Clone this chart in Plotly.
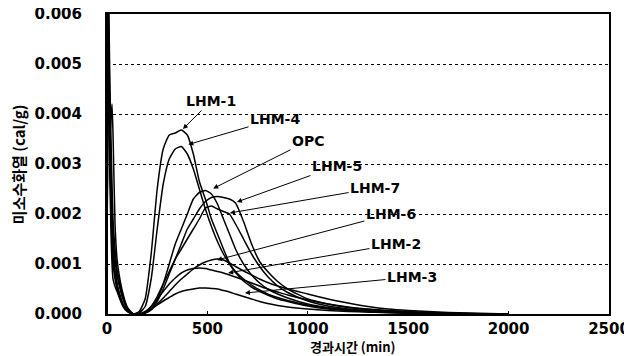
import plotly.graph_objects as go

# time (min)
t = [0, 5, 10, 15, 20, 25, 30, 40, 50, 60,
     80, 100, 130, 160, 190, 220, 250, 280, 310, 340,
     370, 400, 430, 460, 490, 520, 550, 580, 610, 640,
     680, 720, 760, 800, 850, 900, 1000, 1100, 1200, 1300,
     1400, 1500, 1600, 1700, 1800, 1900, 2000]

lhm1 = [0, 0.0068, 0.0052, 0.0038, 0.0028, 0.0021, 0.0016, 0.0011, 0.0008, 0.0006,
        0.0003, 0.00012, 0.0, 0.00005, 0.0003, 0.0012, 0.0025, 0.0033, 0.00358, 0.00362,
        0.00368, 0.00358, 0.0032, 0.00265, 0.0023, 0.0019, 0.0016, 0.0013, 0.00102, 0.00085,
        0.0007, 0.00058, 0.00048, 0.0004, 0.00033, 0.00027, 0.00018, 0.00012, 0.00008, 0.00005,
        0.00003, 0.00002, 0.00001, 0, 0, 0, 0]

lhm4 = [0, 0.0064, 0.0047, 0.0033, 0.0024, 0.0017, 0.0012, 0.0008, 0.0006, 0.00045,
        0.0002, 0.00008, 0, 0.00002, 0.00015, 0.0007, 0.0017, 0.0026, 0.0031, 0.0033,
        0.00335, 0.0032, 0.0029, 0.0025, 0.0021, 0.00175, 0.00145, 0.0012, 0.001, 0.00083,
        0.00066, 0.00054, 0.00045, 0.00038, 0.0003, 0.00025, 0.00016, 0.0001, 0.00007, 0.00004,
        0.00003, 0.00002, 0.00001, 0, 0, 0, 0]

opc = [0, 0.0072, 0.0058, 0.0045, 0.0035, 0.0026, 0.0019, 0.0013, 0.0009, 0.0007,
       0.00035, 0.00012, 0, 0, 0.00002, 0.0001, 0.0003, 0.0006, 0.001, 0.0014,
       0.0017, 0.002, 0.0023, 0.00243, 0.00247, 0.0024, 0.0022, 0.0019, 0.0016, 0.0013,
       0.001, 0.00078, 0.00062, 0.0005, 0.0004, 0.00032, 0.0002, 0.00013, 0.00009, 0.00006,
       0.00004, 0.00002, 0.00001, 0, 0, 0, 0]

lhm5 = [0, 0.0061, 0.0044, 0.003, 0.0021, 0.0015, 0.001, 0.0007, 0.0005, 0.00035,
        0.00015, 0.00005, 0, 0, 0.00002, 0.00008, 0.00025, 0.0005, 0.0008, 0.0011,
        0.0014, 0.0017, 0.0019, 0.0021, 0.00225, 0.00233, 0.00235, 0.00233, 0.0023, 0.00222,
        0.00185, 0.0014, 0.00105, 0.00085, 0.00065, 0.0005, 0.0003, 0.0002, 0.00013, 0.00009,
        0.00006, 0.00004, 0.00002, 0.00001, 0, 0, 0]

lhm7 = [0, 0.0066, 0.0049, 0.0036, 0.0026, 0.0019, 0.0014, 0.0009, 0.0006, 0.0004,
        0.00018, 0.00006, 0, 0, 0.00003, 0.00015, 0.00035, 0.0006, 0.00085, 0.0011,
        0.0013, 0.0015, 0.0017, 0.0019, 0.00212, 0.00216, 0.0021, 0.00205, 0.002, 0.0018,
        0.0015, 0.0012, 0.00095, 0.00075, 0.00056, 0.00043, 0.00026, 0.00016, 0.0001, 0.00007,
        0.00004, 0.00003, 0.00001, 0, 0, 0, 0]

lhm6 = [0, 0.0062, 0.0045, 0.0032, 0.0022, 0.0014, 0.001, 0.00085, 0.00075, 0.0006,
        0.0003, 0.0001, 0, 0, 0.00003, 0.0001, 0.0002, 0.00032, 0.00045, 0.00058,
        0.0007, 0.0008, 0.0009, 0.00098, 0.00104, 0.00108, 0.0011, 0.00108, 0.00102, 0.00095,
        0.00086, 0.00078, 0.0007, 0.00063, 0.00056, 0.0005, 0.0004, 0.0003, 0.00022, 0.00015,
        0.0001, 0.00007, 0.00005, 0.00003, 0.00002, 0.00001, 0]

lhm2 = [0, 0.0058, 0.0044, 0.0036, 0.0039, 0.0042, 0.0036, 0.0018, 0.0011, 0.0008,
        0.0004, 0.00015, 0, 0, 0.00005, 0.00015, 0.0003, 0.00045, 0.0006, 0.00072,
        0.00082, 0.00088, 0.00091, 0.00092, 0.00091, 0.00088, 0.00085, 0.00082, 0.00078, 0.00074,
        0.00068, 0.00062, 0.00056, 0.0005, 0.00044, 0.00038, 0.00028, 0.0002, 0.00014, 0.0001,
        0.00007, 0.00005, 0.00003, 0.00002, 0.00001, 0, 0]

lhm3 = [0, 0.006, 0.004, 0.0026, 0.0016, 0.001, 0.0007, 0.00055, 0.00045, 0.00035,
        0.00018, 0.00006, 0, 0, 0.00003, 0.0001, 0.00018, 0.00026, 0.00033, 0.0004,
        0.00045, 0.00048, 0.0005, 0.00052, 0.00052, 0.00051, 0.0005, 0.00047, 0.00044, 0.0004,
        0.00035, 0.0003, 0.00025, 0.00021, 0.00017, 0.00014, 0.0001, 0.00007, 0.00005, 0.00004,
        0.00003, 0.00002, 0.00001, 0, 0, 0, 0]

series_names = ["LHM-1", "LHM-4", "OPC", "LHM-5", "LHM-7", "LHM-6", "LHM-2", "LHM-3"]
series_vals = [lhm1, lhm4, opc, lhm5, lhm7, lhm6, lhm2, lhm3]

# label text position (x, y) and arrow tip (x, y) in data units
label_xy = [(518, 0.00426), (837, 0.0039), (1001, 0.00346), (1145, 0.00296),
            (1335, 0.00252), (1414, 0.0020), (1439, 0.0014), (1519, 0.00074)]
tip_xy = [(378, 0.0037), (405, 0.00339), (529, 0.00251), (647, 0.00224),
          (612, 0.00202), (548, 0.00108), (603, 0.00082), (687, 0.00042)]

FONT = "DejaVu Sans"

fig = go.Figure()
for name, vals in zip(series_names, series_vals):
    fig.add_trace(go.Scatter(x=t, y=vals, mode="lines", name=name,
                             line=dict(color="black", width=1.5, shape="spline", smoothing=0.5)))

for name, (lx, ly), (tx, ty) in zip(series_names, label_xy, tip_xy):
    fig.add_annotation(x=tx, y=ty, ax=lx, ay=ly, xref="x", yref="y", axref="x", ayref="y",
                       text=name, showarrow=True, arrowhead=2, arrowsize=1, arrowwidth=1,
                       arrowcolor="black",
                       font=dict(family=FONT, size=14, color="black", weight="bold"))

fig.add_annotation(x=0.49, y=-0.108, xref="paper", yref="paper", text="경과시간 (min)",
                   showarrow=False, xanchor="center", yanchor="middle",
                   font=dict(family="Noto Sans CJK KR", size=13, color="black", weight="bold"))
fig.add_annotation(x=-0.177, y=0.5, xref="paper", yref="paper", text="미소수화열 (cal/g)",
                   showarrow=False, textangle=-90, xanchor="center", yanchor="middle",
                   font=dict(family="Noto Sans CJK KR", size=15, color="black", weight="bold"))

# page body has an 8px margin; the figure is sized and padded to compensate
fig.update_layout(
    width=624, height=348,
    margin=dict(l=99, r=23, t=6, b=42, autoexpand=False),
    paper_bgcolor="white", plot_bgcolor="white",
    showlegend=False,
    font=dict(family=FONT, color="black"),
)
fig.update_xaxes(range=[0, 2500], dtick=500, tick0=0, showgrid=False, zeroline=False,
                 showline=True, linecolor="black", linewidth=2, mirror=True,
                 ticks="inside", ticklen=3, tickcolor="black", ticklabeloverflow="allow",
                 ticklabelstandoff=0,
                 tickfont=dict(family=FONT, size=15, color="black", weight="bold"))
fig.update_yaxes(range=[0, 0.006], dtick=0.001, tick0=0, tickformat=".3f",
                 showgrid=True, gridcolor="black", gridwidth=1, griddash="3px,3px",
                 zeroline=False, showline=True, linecolor="black", linewidth=2, mirror=True,
                 ticks="inside", ticklen=3, tickcolor="black", ticklabelstandoff=20,
                 ticklabeloverflow="allow",
                 tickfont=dict(family=FONT, size=15, color="black", weight="bold"))

fig.write_html("out.html")
